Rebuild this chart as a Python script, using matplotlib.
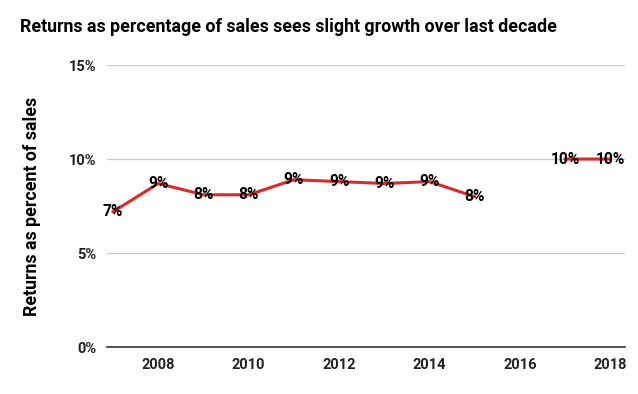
import matplotlib.pyplot as plt
import numpy as np

# data
years = [2007, 2008, 2009, 2010, 2011, 2012, 2013, 2014, 2015, 2016, 2017, 2018]
returns_pct = [7.2, 8.7, 8.1, 8.1, 8.9, 8.8, 8.7, 8.8, 8.0, np.nan, 10.0, 10.0]
y_ticks = [0, 5, 10, 15]
x_ticks = [2008, 2010, 2012, 2014, 2016, 2018]

plt.rcParams['font.family'] = ['Roboto', 'DejaVu Sans']

fig = plt.figure(figsize=(6.38, 3.94), dpi=100)
ax = fig.add_axes([0.168, 0.119, 0.812, 0.716])

ax.plot(years, returns_pct, color='#dc2a2a', linewidth=2.2, zorder=3)

for x, y in zip(years, returns_pct):
    if np.isnan(y):
        continue
    ax.text(x, y, f"{y:.0f}%", ha='center', va='center', fontsize=11.2,
            fontweight='bold', color='black', zorder=4)

ax.set_xlim(2006.87, 2018.33)
ax.set_ylim(0, 15)
ax.set_yticks(y_ticks)
ax.set_yticklabels([f"{t}%" for t in y_ticks])
ax.set_xticks(x_ticks)
ax.set_xticklabels([str(t) for t in x_ticks])

ax.grid(axis='y', color='#cccccc', linewidth=1)
ax.set_axisbelow(True)
for side in ['top', 'right', 'left']:
    ax.spines[side].set_visible(False)
ax.spines['bottom'].set_color('#333333')
ax.spines['bottom'].set_linewidth(1.2)
ax.tick_params(length=0, labelsize=10.5, pad=8)
for lbl in ax.get_xticklabels() + ax.get_yticklabels():
    lbl.set_fontweight('bold')
    lbl.set_color('#222222')

ax.set_ylabel('Returns as percent of sales', fontsize=12.8, fontweight='bold',
              labelpad=20)
fig.text(0.031, 0.92, 'Returns as percentage of sales sees slight growth over last decade',
         fontsize=12.8, fontweight='bold', ha='left', va='baseline')

fig.savefig('out.png', dpi=100, facecolor='white')
